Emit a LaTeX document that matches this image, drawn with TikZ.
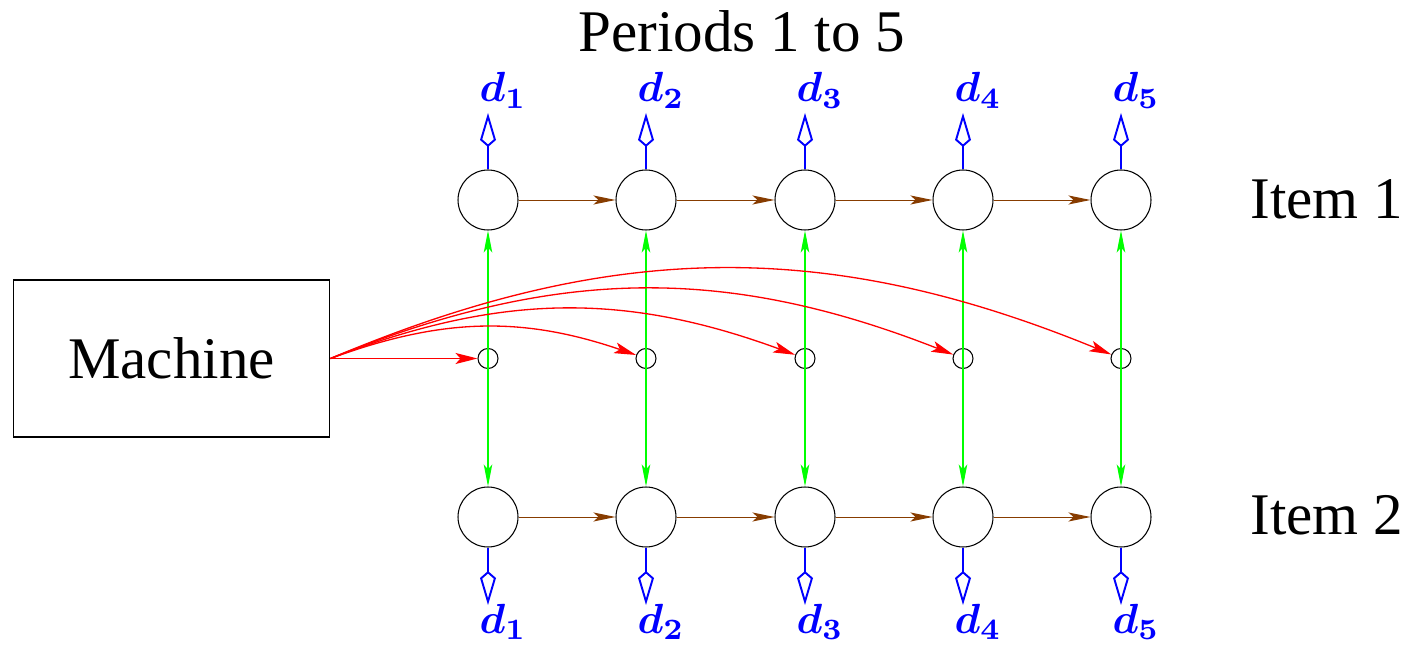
\documentclass[tikz,border=0pt]{standalone}
\usepackage{bm}
\usepackage{graphicx}
\usepackage{fontspec}
\setmainfont{Liberation Serif}
\usetikzlibrary{arrows.meta}
\definecolor{mybrown}{RGB}{135,60,0}
\begin{document}
\begin{tikzpicture}[x=0.02cm,y=0.02cm,
  big/.style={circle,draw,line width=0.6pt,minimum size=1.2cm,inner sep=0pt},
  small/.style={circle,draw,line width=0.6pt,minimum size=0.4cm,inner sep=0pt},
  dlab/.style={text=blue,anchor=base,inner sep=0pt},
  lab/.style={inner sep=0pt,font=\fontsize{33.6}{40}\selectfont},
  demand/.style={draw=blue,line width=1.1pt,-{Kite[open,length=0.68cm,width=0.32cm,inset=0.14cm]}},
  flow/.style={draw=mybrown,line width=0.55pt,-{Stealth[length=0.44cm,width=0.18cm,inset=0.1cm]}},
  link/.style={draw=green,line width=0.75pt,{Stealth[length=0.44cm,width=0.17cm,inset=0.1cm]}-{Stealth[length=0.44cm,width=0.17cm,inset=0.1cm]}},
  prod/.style={draw=red,line width=0.75pt,-{Stealth[length=0.44cm,width=0.22cm,inset=0.1cm]}}
]
\useasboundingbox (0,0) rectangle (1427,646);
\node[lab,anchor=base] (title) at (742,594) {Periods 1 to 5};
\node[lab,anchor=base west] (item1) at (1250,427) {Item 1};
\node[lab,anchor=base west] (item2) at (1250,112) {Item 2};
\node[draw,line width=0.6pt,minimum width=6.34cm,minimum height=3.14cm,inner sep=0pt,font=\fontsize{33.6}{40}\selectfont] (M) at (171.5,287.5) {Machine};
\foreach \i/\x in {1/488,2/646,3/805,4/963,5/1121}{
  \node[big] (t\i) at (\x,446) {};
  \node[big] (b\i) at (\x,129) {};
  \node[small] (s\i) at (\x,287.5) {};
  \coordinate (tt\i) at (\x,533);
  \coordinate (bt\i) at (\x,41);
  \node[dlab] (dt\i) at (\x+15,544) {\scalebox{2.4}{$\bm{d_{\i}}$}};
  \node[dlab] (db\i) at (\x+15,13) {\scalebox{2.4}{$\bm{d_{\i}}$}};
  \draw[demand] (t\i.north) -- (tt\i);
  \draw[demand] (b\i.south) -- (bt\i);
  \draw[link] (t\i.south) -- (b\i.north);
}
\foreach \i/\j in {1/2,2/3,3/4,4/5}{
  \draw[flow] (t\i) -- (t\j);
  \draw[flow] (b\i) -- (b\j);
}
\draw[prod] (M.east) -- (s1);
\foreach \i/\b in {2/19.5,3/20.6,4/21.8,5/22.6}{
  \draw[prod] (M.east) to[bend left=\b] (s\i);
}
\end{tikzpicture}
\end{document}
